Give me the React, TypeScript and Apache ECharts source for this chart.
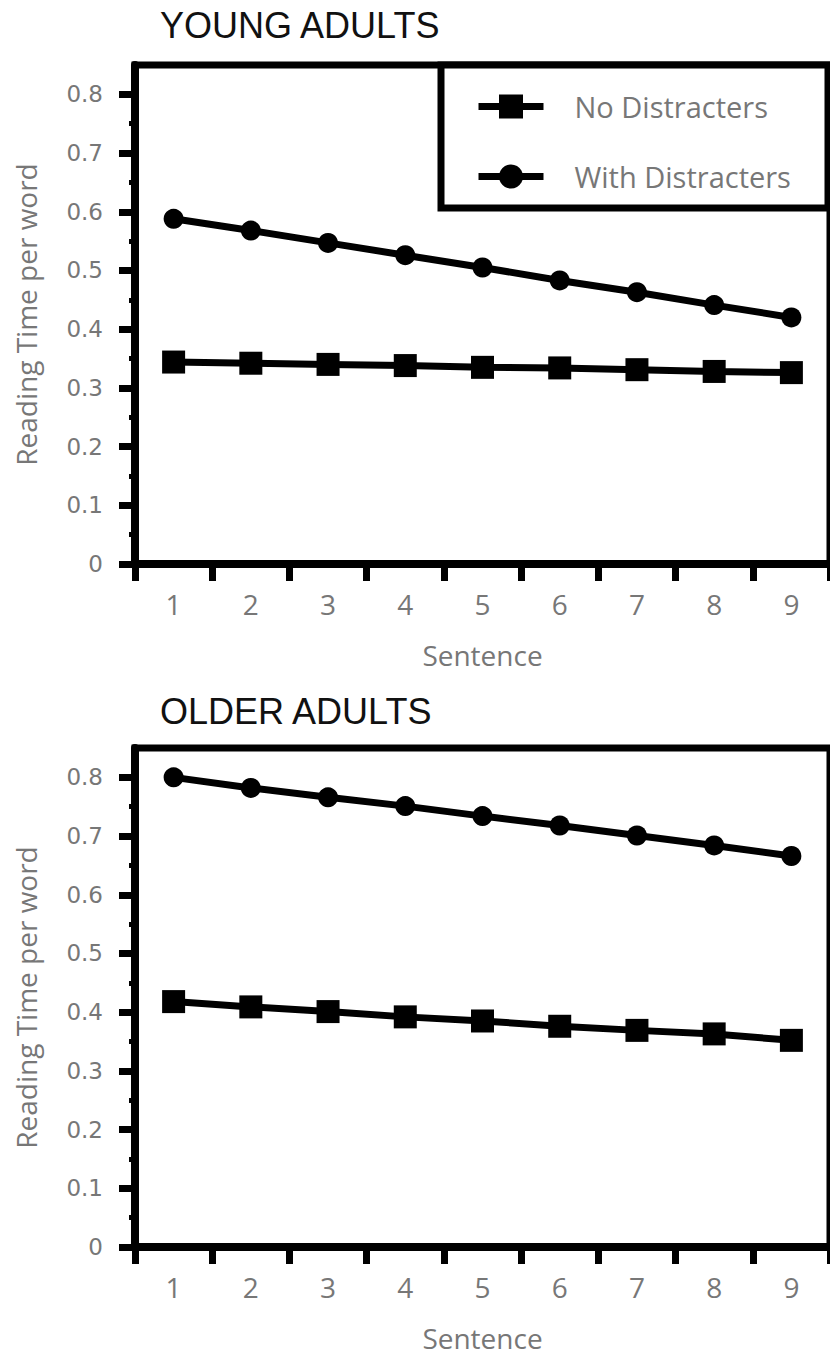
import React, { useEffect, useRef } from "react";
import * as echarts from "echarts";

const sentences = ["1", "2", "3", "4", "5", "6", "7", "8", "9"];
const youngNo = [0.344, 0.342, 0.34, 0.338, 0.335, 0.334, 0.331, 0.328, 0.326];
const youngWith = [0.588, 0.568, 0.547, 0.526, 0.505, 0.483, 0.463, 0.441, 0.42];
const olderNo = [0.418, 0.409, 0.401, 0.392, 0.385, 0.376, 0.369, 0.363, 0.352];
const olderWith = [0.8, 0.782, 0.766, 0.751, 0.734, 0.718, 0.701, 0.684, 0.666];
const yTicks = [0, 0.1, 0.2, 0.3, 0.4, 0.5, 0.6, 0.7, 0.8];
const titles = ["YOUNG ADULTS", "OLDER ADULTS"];
const seriesNames = ["No Distracters", "With Distracters"];
const xName = "Sentence";
const yName = "Reading Time per word";

const GRAY = "#777";

export default function App() {
  const ref = useRef<HTMLDivElement>(null);
  useEffect(() => {
    if (!ref.current) return;
    const chart = echarts.init(ref.current, null, { renderer: "svg" });
    const tops = [65, 748];
    const panels = [
      [youngNo, youngWith],
      [olderNo, olderWith],
    ];
    const grid = tops.map((t) => ({
      left: 135,
      top: t,
      width: 702,
      height: 499,
      show: true,
      borderColor: "#000",
      borderWidth: 7,
      backgroundColor: "transparent",
    }));
    const xAxis = tops.map((_, i) => ({
      type: "category",
      gridIndex: i,
      data: sentences,
      boundaryGap: true,
      axisLine: { show: true, lineStyle: { color: "#000", width: 8 } },
      axisTick: { show: true, length: 17, lineStyle: { color: "#000", width: 7 } },
      axisLabel: { fontFamily: "Open Sans", fontSize: 28, color: GRAY, margin: 26 },
      splitLine: { show: false },
      name: xName,
      nameLocation: "middle",
      nameGap: 77,
      nameTextStyle: { fontFamily: "Open Sans", fontSize: 28, color: GRAY },
    }));
    const yAxis = tops.map((_, i) => ({
      type: "value",
      gridIndex: i,
      min: 0,
      max: 0.85,
      interval: 0.1,
      axisLine: { show: true, onZero: false, lineStyle: { color: "#000", width: 8 } },
      axisTick: {
        show: true,
        customValues: yTicks,
        length: 16,
        lineStyle: { color: "#000", width: 7 },
      },
      minorTick: { show: true, splitNumber: 2, length: 6, lineStyle: { color: "#000", width: 5 } },
      splitLine: { show: false },
      axisLabel: {
        customValues: yTicks,
        formatter: (v: number) => (v === 0 ? "0" : v.toFixed(1)),
        fontFamily: "DejaVu Sans",
        fontSize: 23,
        color: GRAY,
        margin: 32,
      },
      name: yName,
      nameLocation: "middle",
      nameGap: 95,
      nameTextStyle: { fontFamily: "Open Sans", fontSize: 28, color: GRAY },
    }));
    const series: any[] = [];
    panels.forEach((p, i) => {
      series.push({
        type: "line",
        name: seriesNames[0],
        xAxisIndex: i,
        yAxisIndex: i,
        data: p[0],
        symbol: "rect",
        symbolSize: 23,
        lineStyle: { color: "#000", width: 7 },
        itemStyle: { color: "#000" },
        z: 3,
      });
      series.push({
        type: "line",
        name: seriesNames[1],
        xAxisIndex: i,
        yAxisIndex: i,
        data: p[1],
        symbol: "circle",
        symbolSize: 20,
        lineStyle: { color: "#000", width: 7 },
        itemStyle: { color: "#000" },
        z: 3,
      });
    });
    chart.setOption({
      animation: false,
      backgroundColor: "#fff",
      title: titles.map((t, i) => ({
        text: t,
        left: 160,
        top: i === 0 ? 7 : 693,
        padding: 0,
        textStyle: { fontFamily: "Liberation Sans", fontSize: 36, fontWeight: "normal", color: "#111" },
      })),
      grid,
      xAxis,
      yAxis,
      series,
      legend: {
        data: seriesNames,
        orient: "vertical",
        left: 470,
        top: 87,
        itemWidth: 65,
        itemHeight: 30,
        itemGap: 41,
        selectedMode: false,
        z: 6,
        lineStyle: { color: "#000", width: 7 },
        itemStyle: { color: "#000" },
        textStyle: { fontFamily: "Open Sans", fontSize: 29, color: GRAY, padding: [0, 0, 0, 26] },
      },
      graphic: [
        {
          type: "rect",
          z: 5,
          shape: { x: 441, y: 65, width: 387, height: 143 },
          style: { fill: "#fff", stroke: "#000", lineWidth: 7 },
        },
      ],
    });
    return () => chart.dispose();
  }, []);
  return (
    <div
      ref={ref}
      style={{ position: "absolute", left: 0, top: 0, width: 830, height: 1357, background: "#fff" }}
    />
  );
}
